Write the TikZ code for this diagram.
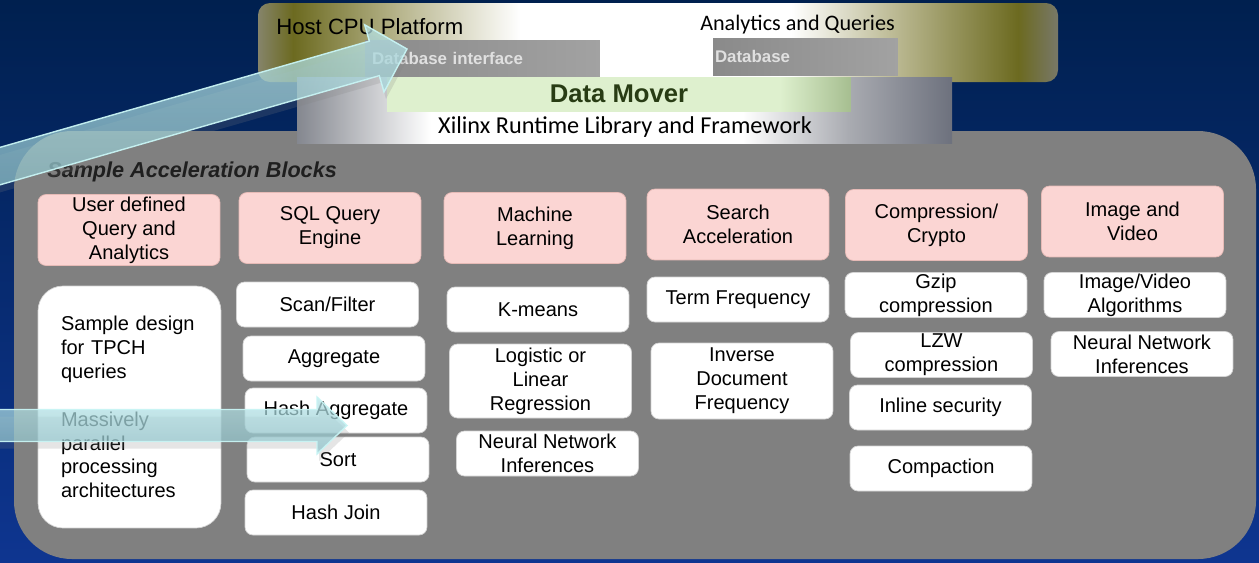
\documentclass[tikz,border=0pt]{standalone}
\usepackage{fontspec}
\setmainfont{Liberation Sans}
\newfontfamily\calibrifont{Carlito}
\usetikzlibrary{positioning,calc,shadows}

\definecolor{bgtop}{HTML}{00204F}
\definecolor{bgbot}{HTML}{0E3590}
\definecolor{panelgray}{HTML}{808080}
\definecolor{hdrpink}{HTML}{FBD5D3}
\definecolor{hdrline}{HTML}{E6BAB6}
\definecolor{boxline}{HTML}{D4D4D4}
\definecolor{hostL}{HTML}{85846A}
\definecolor{olivedk}{HTML}{6C6A20}
\definecolor{olivelt}{HTML}{B8B68E}
\definecolor{hostR}{HTML}{787868}
\definecolor{xrlL}{HTML}{84878F}
\definecolor{xrlM}{HTML}{A9ABB1}
\definecolor{xrlR}{HTML}{6D717D}
\definecolor{dmlt}{HTML}{DEF0CE}
\definecolor{dmdk}{HTML}{A6BE90}
\definecolor{dmtext}{HTML}{283C14}
\definecolor{dbL}{HTML}{8A8A8A}
\definecolor{dbR}{HTML}{A2A2A2}
\definecolor{arrowlt}{HTML}{B8E6EA}
\definecolor{arrowdk}{HTML}{8CC0C8}
\definecolor{arrowline}{HTML}{C8F4F4}

% fades for the host platform strip, runtime box and data mover bar
\pgfdeclarehorizontalshading{hostfade}{100bp}{color(0bp)=(hostL); color(25bp)=(hostL); color(27.2bp)=(olivedk); color(33.9bp)=(olivelt); color(41.4bp)=(white); color(58.3bp)=(white); color(65.1bp)=(olivelt); color(72.5bp)=(olivedk); color(75bp)=(hostR); color(100bp)=(hostR)}
\pgfdeclarehorizontalshading{xrlfade}{100bp}{color(0bp)=(xrlL); color(25bp)=(xrlL); color(35.2bp)=(white); color(59bp)=(white); color(67.1bp)=(xrlM); color(75bp)=(xrlR); color(100bp)=(xrlR)}
\pgfdeclarehorizontalshading{dmfade}{100bp}{color(0bp)=(dmlt); color(25bp)=(dmlt); color(67.3bp)=(dmlt); color(75bp)=(dmdk); color(100bp)=(dmdk)}

% block arrow: style, tail, tip, shaft half width, head half width, head length
\newcommand{\fatarrow}[6]{%
  \coordinate (#3-back) at ($(#3)!#6!(#2)$);
  \path[#1] ($(#2)!#4!90:(#3)$) -- ($(#3-back)!#4!90:(#3)$) -- ($(#3-back)!#5!90:(#3)$)
    -- (#3) -- ($(#3-back)!#5!-90:(#3)$) -- ($(#3-back)!#4!-90:(#3)$) -- ($(#2)!#4!-90:(#3)$) -- cycle;
}

\begin{document}
\begin{tikzpicture}[
    x=0.02cm, y=-0.02cm,
    font=\fontsize{11.4}{13.6}\selectfont,
    hdr/.style={rectangle, rounded corners=0.16cm, fill=hdrpink, draw=hdrline, minimum width=3.64cm, minimum height=1.42cm, align=center, inner ysep=0pt},
    blk/.style={rectangle, rounded corners=0.16cm, fill=white, draw=boxline, minimum width=3.64cm, minimum height=0.9cm, align=center, inner ysep=0pt},
    dbbox/.style={rectangle, left color=dbL, right color=dbR, align=left, inner ysep=0pt, text=white!88!black, font=\fontsize{9.6}{11}\selectfont\bfseries},
    fat/.style={top color=arrowlt, bottom color=arrowdk, fill opacity=0.72, draw=arrowline, draw opacity=0.95, line width=0.8pt, drop shadow={opacity=0.2, shadow xshift=0.04cm, shadow yshift=-0.14cm}}
]
    \useasboundingbox (0,0) rectangle (1259,562);
    \shade[top color=bgtop, bottom color=bgbot] (0,0) rectangle (1259,562);

    % acceleration panel
    \fill[panelgray, rounded corners=1.16cm] (14,131) rectangle (1256,559);

    % host side
    \shade[shading=hostfade, rounded corners=0.24cm] (258,3) rectangle (1058,82);
    \node[anchor=west, inner sep=0pt, font=\fontsize{12.6}{14}\selectfont] (host) at (276,27) {Host CPU Platform};
    \node[inner sep=0pt, font=\calibrifont\fontsize{12.6}{14}\selectfont] (aq) at (797.5,25) {Analytics and Queries};
    \node[dbbox, minimum width=4.7cm, minimum height=0.72cm, text width=4.42cm, inner xsep=0.14cm] (dbif) at (482.5,58) {Database interface};
    \node[dbbox, minimum width=3.7cm, minimum height=0.74cm, text width=3.62cm, inner xsep=0.04cm] (db) at (805.5,56.5) {Database};

    % runtime and data mover
    \shade[shading=xrlfade] (297,77) rectangle (952,143);
    \node[inner sep=0pt, font=\calibrifont\fontsize{13.8}{15}\selectfont] (xrl) at (625,127) {Xilinx Runtime Library and Framework};
    \node[shade, shading=dmfade, minimum width=9.28cm, minimum height=0.68cm, inner sep=0pt, text=dmtext, font=\fontsize{14.6}{16}\selectfont\bfseries] (dm) at (619,94) {Data Mover};

    \node[anchor=west, inner sep=0pt, text=black!88, font=\fontsize{12.3}{14}\selectfont\bfseries\itshape] (sab) at (47,172) {Sample Acceleration Blocks};

    % column heads
    \node[hdr] (udq) at (129,230) {User defined\\Query and\\Analytics};
    \node[hdr] (sql) at (330,228) {SQL Query\\Engine};
    \node[hdr] (ml) at (535,228) {Machine\\Learning};
    \node[hdr] (srch) at (738,224.5) {Search\\Acceleration};
    \node[hdr] (cmp) at (936.5,225) {Compression/\\Crypto};
    \node[hdr] (img) at (1132.5,221.5) {Image and\\Video};

    % blocks
    \node[blk, rounded corners=0.5cm, minimum width=3.66cm, minimum height=4.84cm, text width=2.74cm, inner xsep=0.46cm, align=left] (tpch) at (129.5,407)
        {Sample design\\for TPCH\\queries\\[13.6pt]Massively\\parallel\\processing\\architectures};
    \node[blk] (scan) at (327.5,304.5) {Scan/Filter};
    \node[blk] (agg) at (334,358.5) {Aggregate};
    \node[blk] (hagg) at (336,410.5) {Hash Aggregate};
    \node[blk] (sort) at (338,459.5) {Sort};
    \node[blk] (hjoin) at (336,512.5) {Hash Join};
    \node[blk] (kmeans) at (538,309.5) {K-means};
    \node[blk, minimum height=1.48cm] (logreg) at (540.5,381) {Logistic or\\Linear\\Regression};
    \node[blk] (nnml) at (547.5,453.5) {Neural Network\\Inferences};
    \node[blk] (tf) at (738,299.5) {Term Frequency};
    \node[blk, minimum height=1.52cm] (idf) at (742,381) {Inverse\\Document\\Frequency};
    \node[blk] (gzip) at (936,295) {Gzip\\compression};
    \node[blk] (lzw) at (941.5,355) {LZW\\compression};
    \node[blk] (inl) at (940.5,407.5) {Inline security};
    \node[blk] (cpt) at (941,468.5) {Compaction};
    \node[blk] (imv) at (1135,295) {Image/Video\\Algorithms};
    \node[blk] (nnimg) at (1142,354) {Neural Network\\Inferences};

    % feed arrows
    \coordinate (feedA) at (-40,177.6);
    \coordinate (tipA) at (407,49);
    \coordinate (feedB) at (-20,425.5);
    \coordinate (tipB) at (347,425.5);
    \fatarrow{fat}{feedA}{tipA}{0.36cm}{0.7cm}{0.68cm}
    \fatarrow{fat}{feedB}{tipB}{0.32cm}{0.57cm}{0.6cm}
\end{tikzpicture}
\end{document}
